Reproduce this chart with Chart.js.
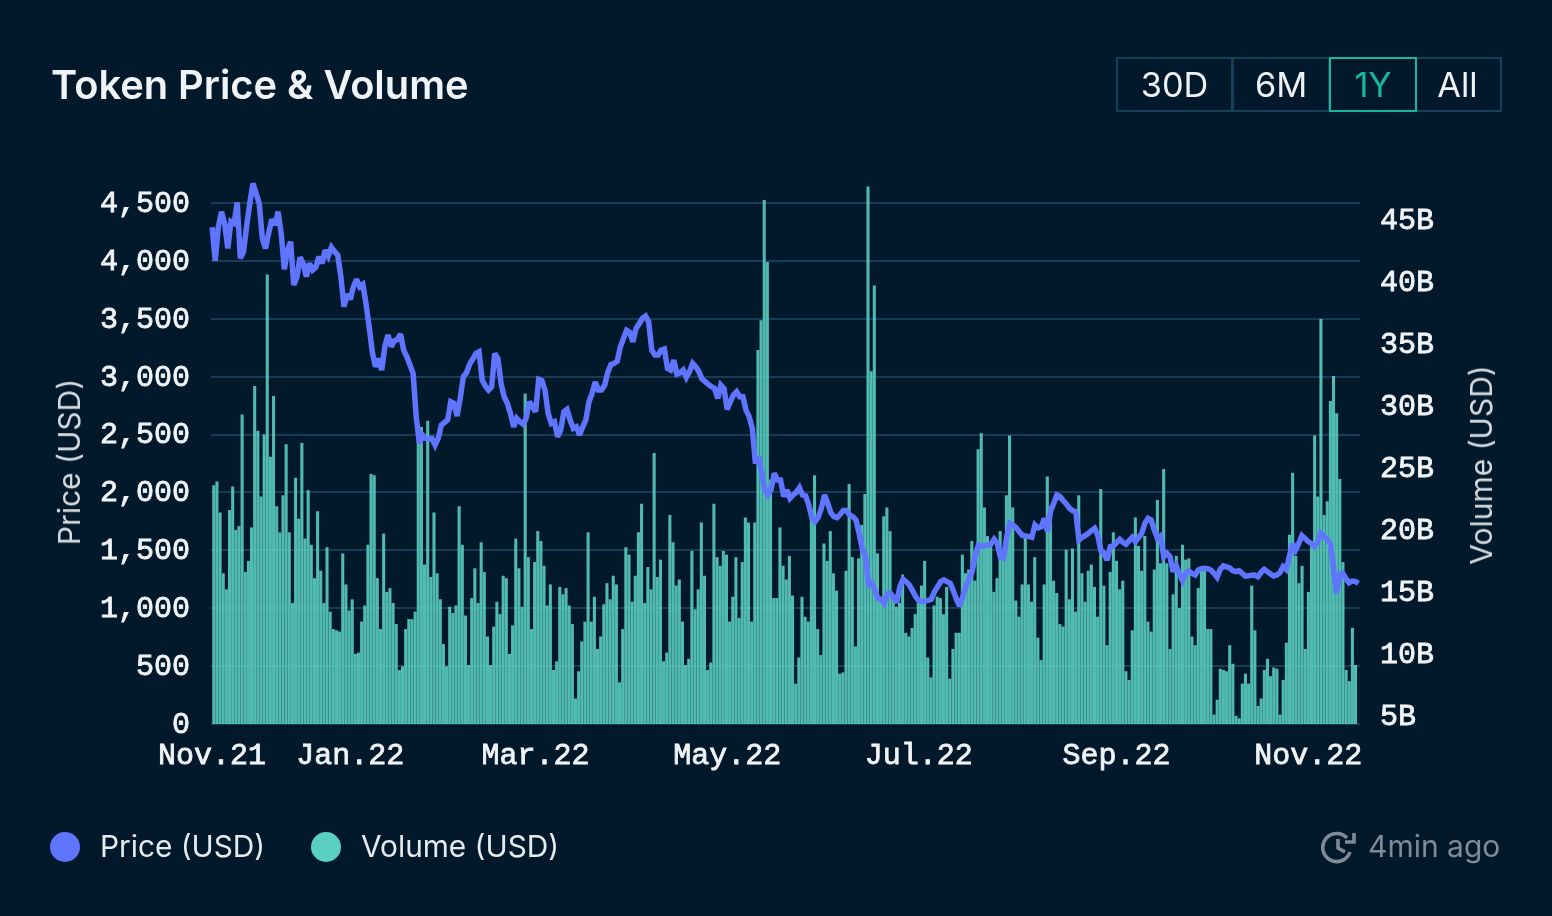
<!DOCTYPE html>
<html><head><meta charset="utf-8">
<script src="https://cdn.jsdelivr.net/npm/chart.js@4"></script>
<style>
html,body{margin:0;padding:0;background:#01192b;overflow:hidden}
#wrap{position:relative;width:1552px;height:916px;font-family:Inter,sans-serif;color:#f1f4f6}
canvas{position:absolute;left:0;top:0}
.t{position:absolute;white-space:nowrap;line-height:1}
#title{left:51px;top:65px;font-size:39.8px;font-weight:600}
.btn{position:absolute;top:57px;height:55px;box-sizing:border-box;border:2px solid #16405a;font-size:34.3px;line-height:51px;text-align:center;color:#eef2f4}
.btn.on{border-color:#14b89c;color:#14b89c;z-index:2}
.dot{position:absolute;width:30px;height:30px;border-radius:50%;top:832px}
.rot{position:absolute;white-space:nowrap;font-size:30px;line-height:1;color:#d5dadf;transform:translate(-50%,-50%) rotate(-90deg)}
</style></head><body>
<div id="wrap">
<canvas id="c" width="1552" height="916"></canvas>
<div class="t" id="title">Token Price &amp; Volume</div>
<div class="btn" style="left:1116px;width:117px">30D</div>
<div class="btn" style="left:1232px;width:98px">6M</div>
<div class="btn on" style="left:1329px;width:88px">1Y</div>
<div class="btn" style="left:1415px;width:87px;padding-right:2px">All</div>
<div class="rot" style="left:69px;top:462px">Price (USD)</div>
<div class="rot" style="left:1481px;top:465px">Volume (USD)</div>
<div class="dot" style="left:50px;background:#5f75ff"></div>
<div class="t" style="left:100px;top:832px;font-size:29.8px;color:#e6ebee">Price (USD)</div>
<div class="dot" style="left:311px;background:#5ad0c5"></div>
<div class="t" style="left:361px;top:832px;font-size:29.8px;color:#e6ebee">Volume (USD)</div>
<svg style="position:absolute;left:1321px;top:830px" width="36" height="34" viewBox="0 0 36 34" fill="none" stroke="#7f8b95" stroke-width="3.6">
<path d="M29 22 A14 14 0 1 1 26 8"/><path d="M17 9 V18 L24 22"/><path d="M33 3 V12 H24"/></svg>
<div class="t" style="left:1368px;top:831px;font-size:30px;color:#7f8b95">4min ago</div>
</div>
<script>
const xTickIndex=[0,44,103,164,225,288,349];
const xTickLabels=['Nov.21','Jan.22','Mar.22','May.22','Jul.22','Sep.22','Nov.22'];
const priceTicks=[0,500,1000,1500,2000,2500,3000,3500,4000,4500];
const volumeTicks=[5,10,15,20,25,30,35,40,45];
const volumeB=[23.5,23.8,21.3,16.4,15.1,21.5,23.4,19.9,20.2,29.2,16.5,17.4,20.1,31.5,27.9,22.6,27.6,40.5,25.8,30.7,21.8,19.7,22.7,26.8,19.7,14.0,24.1,20.8,26.9,19.2,23.1,18.7,16.0,21.4,16.6,14.0,18.5,13.3,11.9,11.8,11.7,18.0,15.5,13.4,14.3,9.9,10.0,12.5,13.8,18.7,24.4,24.3,16.0,11.9,19.6,14.9,15.2,14.0,12.3,8.6,8.9,11.9,12.7,12.7,13.3,28.2,28.2,17.1,28.7,16.1,21.3,16.4,14.3,10.7,8.9,13.7,13.2,13.8,21.8,18.7,13.0,9.0,14.4,16.8,14.0,18.9,16.5,11.3,9.0,12.1,14.1,13.1,16.2,16.0,9.9,12.2,19.2,16.8,13.7,30.9,17.7,11.9,17.3,19.8,19.0,17.0,13.8,15.5,8.6,9.3,15.3,14.7,15.2,13.8,12.3,6.3,8.5,10.9,12.5,19.7,12.5,14.5,10.3,11.3,
13.9,15.6,14.3,16.2,15.5,7.6,11.9,18.5,17.9,14.1,16.2,19.7,22.0,14.0,16.9,15.1,26.1,16.1,17.5,9.3,10.0,21.1,18.9,15.4,15.9,12.5,9.0,9.5,18.2,13.5,15.1,20.5,16.2,8.6,9.2,22.0,17.7,17.0,18.2,17.9,12.5,14.5,17.7,12.8,17.3,20.9,20.5,12.5,20.5,34.4,36.8,46.5,41.5,23.95,14.4,14.4,20.1,17.0,15.9,17.8,14.6,7.5,9.6,14.5,12.9,12.5,20.7,24.3,11.9,9.8,18.8,17.4,19.8,16.4,15.0,8.3,8.4,16.6,23.6,17.7,10.5,17.6,20.3,22.8,47.6,32.7,39.6,18.0,14.5,21.0,21.7,19.8,14.3,13.7,14.0,16.3,11.6,11.3,12.0,13.1,14.3,15.4,17.4,9.6,8.0,13.8,14.5,14.4,13.1,15.3,7.9,10.3,11.6,11.6,17.9,16.4,16.7,19.0,15.8,26.4,27.7,
21.7,19.4,18.6,14.9,16.0,19.8,17.8,22.7,27.5,21.7,14.2,12.9,15.5,19.4,15.5,14.1,17.7,11.2,9.4,15.5,24.2,21.8,15.8,14.8,12.3,12.1,18.3,14.3,18.4,13.3,22.7,16.4,14.1,16.6,17.1,15.3,12.9,23.2,15.4,10.6,16.5,19.7,17.4,15.1,15.8,8.5,7.8,11.8,20.9,18.6,16.6,19.4,12.5,11.7,16.7,22.3,17.2,24.8,17.2,10.3,14.7,17.8,13.6,18.7,17.5,17.6,11.3,10.6,15.2,16.6,16.6,11.9,11.9,5.0,6.2,8.7,8.6,8.5,10.6,9.1,4.9,4.7,7.5,8.3,7.5,15.4,11.8,5.7,6.3,8.6,9.5,8.1,8.8,8.7,5.0,7.8,10.8,19.5,24.5,17.8,15.6,17.0,10.3,14.9,18.6,27.5,22.6,36.9,21.1,22.2,30.3,32.3,29.3,24.0,17.3,8.6,7.7,12.0,9.0];
const priceUsd=[4289,4001,4295,4424,4323,4107,4338,4323,4505,4021,4079,4300,4496,4669,4582,4496,4194,4107,4237,4358,4309,4424,4237,3926,4093,4165,3791,3857,4030,3978,3863,3978,3920,3943,4035,3978,4093,4041,4116,4079,4050,3863,3604,3713,3667,3776,3840,3776,3796,3632,3431,3215,3086,3157,3057,3259,3359,3259,3308,3321,3367,3229,3172,3100,3028,2653,2423,2495,2466,2463,2466,2409,2466,2581,2604,2625,2783,2769,2659,2812,2999,3033,3107,3152,3200,3215,2970,2918,2884,2913,3200,3157,2941,2826,2769,2682,2567,2639,2610,2590,2639,2783,2740,2697,2976,2965,2884,2682,2596,2610,2481,2538,2697,2717,2625,2553,2567,2495,2567,2625,2783,2856,2954,2884,
2884,2927,3039,3103,3114,3134,3258,3330,3399,3382,3301,3416,3457,3503,3523,3474,3229,3186,3186,3229,3238,3071,3057,3143,3022,3033,3057,2993,3043,3114,3085,3043,2979,2956,2933,2913,2898,2812,2927,2898,2717,2783,2841,2870,2826,2826,2711,2654,2553,2250,
2309,2165,2021,1978,2027,2165,2108,2108,1964,2021,1949,1978,2001,2041,1978,1969,1892,1776,1748,1785,1863,1978,1906,1825,1791,1782,1811,1843,1843,1805,1791,1762,1647,1517,1445,1206,1221,1157,1085,1077,1042,1123,1129,1094,1048,1186,1250,1229,1201,1152,1100,1065,1057,1062,1068,1077,1143,1186,1229,1244,1229,1215,1152,1077,1019,1100,1186,1252,1316,1460,
1545,1535,1540,1546,1555,1595,1560,1439,1431,1618,1733,1719,1696,1661,1629,1624,1618,1612,1719,1693,1702,1776,1661,1842,1906,1978,1963,1929,1900,1863,1842,1834,1589,1612,1627,1647,1670,1690,1630,1497,1474,1416,1532,1537,1566,1595,1569,1552,1583,1612,1575,1609,1647,1733,1776,1762,1675,1603,1624,1445,1474,1445,1316,1365,1295,1238,1301,1321,1301,1287,1330,1341,1344,1341,1330,1301,1267,1336,1365,1356,1347,1324,1316,1324,1301,1278,1281,1284,1287,1272,1310,1336,1316,1295,1278,1287,1307,1359,1336,1445,1560,1503,1560,1627,1603,1575,1560,1532,1569,1647,1624,1595,1560,1373,1129,1287,1301,1258,1221,1235,1232,1215];
const monoFont={family:'"Liberation Mono",monospace',size:30};
const inkStroke={textStrokeColor:'#f1f4f6',textStrokeWidth:0.8};
new Chart(document.getElementById('c'),{
 type:'bar',
 data:{datasets:[
  {type:'line',label:'Price (USD)',data:priceUsd.map((y,x)=>({x,y})),xAxisID:'x',yAxisID:'yP',borderColor:'#5f75ff',borderWidth:5.5,pointRadius:0,tension:0,order:1,borderJoinStyle:'miter',clip:false},
  {type:'bar',label:'Volume (USD)',data:volumeB.map((y,x)=>({x,y})),xAxisID:'xV',yAxisID:'yV',backgroundColor:'rgba(92,210,197,0.88)',barThickness:2.4,order:2}
 ]},
 options:{
  responsive:false,animation:false,
  layout:{padding:{top:183,left:0,right:0,bottom:0}},
  plugins:{legend:{display:false},tooltip:{enabled:false},title:{display:false}},
  scales:{
   x:{type:'linear',offset:false,min:-0.35,max:365.5,
      afterBuildTicks:s=>{s.ticks=xTickIndex.map(v=>({value:v}))},
      afterFit:s=>{s.height=192},
      grid:{display:false},border:{display:false},
      ticks:{autoSkip:false,maxRotation:0,minRotation:0,padding:6,color:'#f1f4f6',font:monoFont,...inkStroke,
       callback:v=>xTickLabels[xTickIndex.indexOf(v)]||''}},
   xV:{type:'linear',offset:false,position:'bottom',display:false,min:-0.51,max:364.8,grid:{display:false}},
   yP:{type:'linear',position:'left',min:0,max:4672,
      afterBuildTicks:s=>{s.ticks=priceTicks.map(v=>({value:v}))},
      afterFit:s=>{s.width=211},
      grid:{color:'#173d56',lineWidth:2,drawTicks:false},border:{display:false},
      ticks:{padding:21,labelOffset:1,color:'#f1f4f6',font:monoFont,...inkStroke,callback:v=>v.toLocaleString('en-US')}},
   yV:{type:'linear',position:'right',min:4.27,max:47.9,
      afterBuildTicks:s=>{s.ticks=volumeTicks.map(v=>({value:v}))},
      afterFit:s=>{s.width=192},
      grid:{display:false,drawTicks:false},border:{display:false},
      ticks:{padding:20,labelOffset:2,color:'#f1f4f6',font:monoFont,...inkStroke,callback:v=>v+'B'}}
  }
 },
 plugins:[{id:'joinLimit',beforeDatasetsDraw(c){c.ctx.miterLimit=2.5}}]
});
</script>
</body></html>
